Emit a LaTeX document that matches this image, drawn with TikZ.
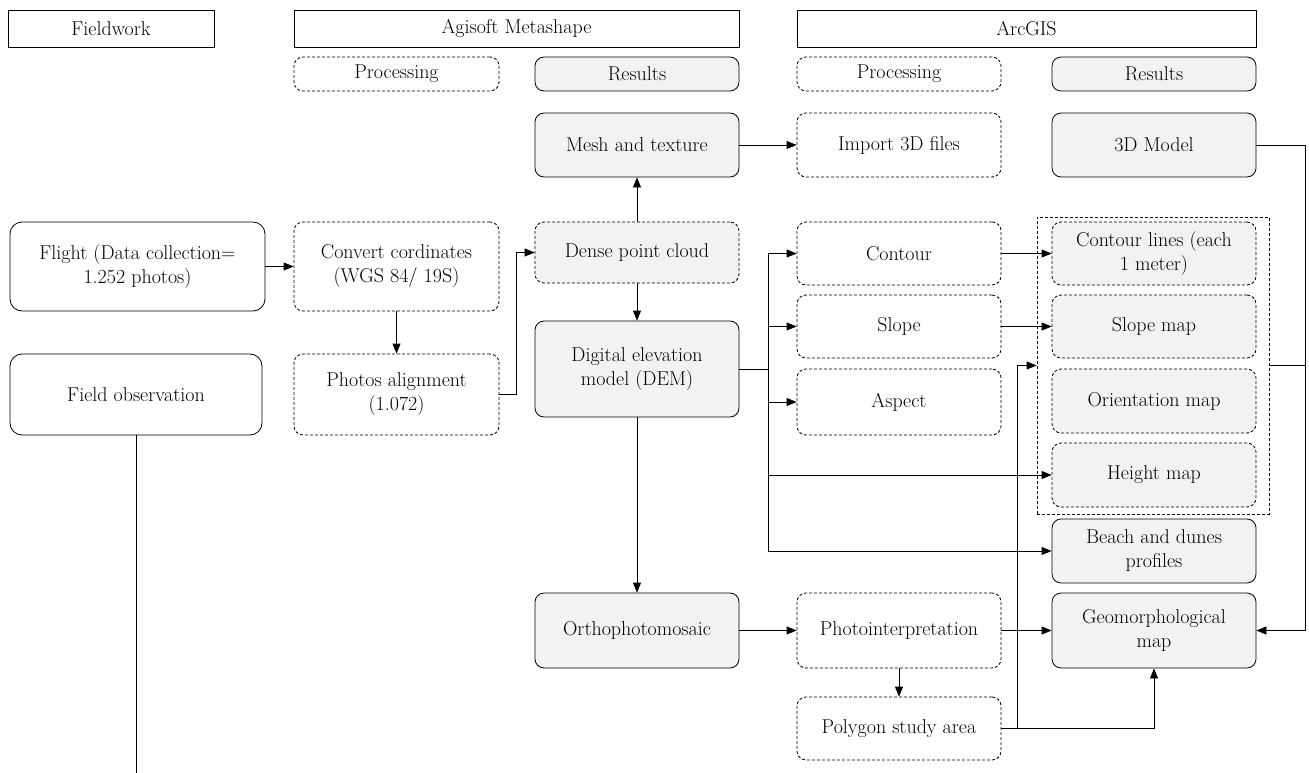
\documentclass[tikz,border=0pt]{standalone}
\usetikzlibrary{arrows.meta}
\definecolor{boxgray}{RGB}{242,242,242}
\begin{document}
\begin{tikzpicture}[x=1pt, y=-1pt,
    base/.style={font=\fontsize{20}{24}\selectfont, align=center, inner sep=2pt,
      line width=0.8pt, draw},
    headbox/.style={base, minimum height=37pt},
    procbox/.style={base, dash pattern=on 3pt off 2pt, rounded corners=9pt},
    resbox/.style={base, fill=boxgray, rounded corners=9pt},
    resdash/.style={resbox, dash pattern=on 3pt off 2pt},
    fieldbox/.style={base, rounded corners=12pt},
    groupbox/.style={draw, line width=0.8pt, dash pattern=on 3pt off 2pt, inner sep=0pt},
    link/.style={-{Triangle[length=10pt,width=8pt]}, line width=0.8pt},
    wire/.style={line width=0.8pt}]
  \useasboundingbox (0,0) rectangle (1309,773);
  % Column heads
  \node[headbox, minimum width=206pt] (fieldwork) at (111,28.5) {Fieldwork};
  \node[headbox, minimum width=445pt] (agisoft) at (516.5,28.5) {Agisoft Metashape};
  \node[headbox, minimum width=459pt] (arcgis) at (1026.5,28.5) {ArcGIS};
  \node[procbox, minimum width=205pt, minimum height=34pt] (procA) at (396.5,74) {Processing};
  \node[resbox, minimum width=204pt, minimum height=34pt] (resA) at (637,74) {Results};
  \node[procbox, minimum width=204pt, minimum height=34pt] (procB) at (899,74) {Processing};
  \node[resbox, minimum width=204pt, minimum height=34pt] (resB) at (1154,74) {Results};
  % Fieldwork
  \node[fieldbox, minimum width=255pt, minimum height=89pt] (flight) at (137.5,266.5)
    {Flight (Data collection=\\1.252 photos)};
  \node[fieldbox, minimum width=252pt, minimum height=81pt] (fieldobs) at (136,394.5)
    {Field observation};
  % Agisoft Metashape
  \node[procbox, minimum width=205pt, minimum height=89pt] (convert) at (396.5,266.5)
    {Convert cordinates\\(WGS 84/ 19S)};
  \node[procbox, minimum width=205pt, minimum height=81pt] (align) at (396.5,394.5)
    {Photos alignment\\(1.072)};
  \node[resbox, minimum width=204pt, minimum height=64pt] (mesh) at (637,145) {Mesh and texture};
  \node[resdash, minimum width=204pt, minimum height=61pt] (dense) at (637,252.5) {Dense point cloud};
  \node[resbox, minimum width=204pt, minimum height=96pt] (dem) at (637,369)
    {Digital elevation\\model (DEM)};
  \node[resbox, minimum width=204pt, minimum height=75pt] (ortho) at (637,630.5) {Orthophotomosaic};
  % ArcGIS processing
  \node[procbox, minimum width=204pt, minimum height=64pt] (import) at (899,145) {Import 3D files};
  \node[procbox, minimum width=204pt, minimum height=63pt] (contour) at (899,253.5) {Contour};
  \node[procbox, minimum width=204pt, minimum height=63pt] (slope) at (899,326.5) {Slope};
  \node[procbox, minimum width=204pt, minimum height=66pt] (aspect) at (899,402) {Aspect};
  \node[procbox, minimum width=204pt, minimum height=75pt] (photoint) at (899,630.5) {Photointerpretation};
  \node[procbox, minimum width=204pt, minimum height=63pt] (polygon) at (899,728.5) {Polygon study area};
  % ArcGIS results
  \node[resbox, minimum width=204pt, minimum height=64pt] (model) at (1154,145) {3D Model};
  \node[groupbox, minimum width=232pt, minimum height=297pt] (maps) at (1153,365.5) {};
  \node[resdash, minimum width=204pt, minimum height=63pt] (contourlines) at (1154,253.5)
    {Contour lines (each\\1 meter)};
  \node[resdash, minimum width=204pt, minimum height=63pt] (slopemap) at (1154,326.5) {Slope map};
  \node[resdash, minimum width=204pt, minimum height=64pt] (orient) at (1154,401) {Orientation map};
  \node[resdash, minimum width=204pt, minimum height=64pt] (height) at (1154,475) {Height map};
  \node[resbox, minimum width=204pt, minimum height=64pt] (beach) at (1154,551)
    {Beach and dunes\\profiles};
  \node[resbox, minimum width=204pt, minimum height=75pt] (geomorph) at (1154,630.5)
    {Geomorphological\\map};
  % Connectors
  \coordinate (split) at (768,369);
  \coordinate (bottomend) at (136,773);
  \draw[link] (flight) -- (convert);
  \draw[link] (convert) -- (align);
  \draw[link] (align.east) -- ++(17,0) |- (dense.west);
  \draw[link] (dense) -- (mesh);
  \draw[link] (dense) -- (dem);
  \draw[link] (mesh) -- (import);
  \draw[wire] (dem.east) -- (split);
  \draw[link] (split) |- (contour.west);
  \draw[link] (split) |- (slope.west);
  \draw[link] (split) |- (aspect.west);
  \draw[link] (split) |- (height.west);
  \draw[link] (split) |- (beach.west);
  \draw[link] (contour) -- (contourlines);
  \draw[link] (slope) -- (slopemap);
  \draw[link] (dem) -- (ortho);
  \draw[link] (ortho) -- (photoint);
  \draw[link] (photoint) -- (geomorph);
  \draw[link] (photoint) -- (polygon);
  \draw[link] (polygon.east) -| (geomorph.south);
  \draw[link] (polygon.east) -- ++(16,0) |- (maps.west);
  \draw[link] (model.east) -- ++(49,0) |- (geomorph.east);
  \draw[wire] (maps.east) -- ++(36,0);
  \draw[wire] (fieldobs) -- (bottomend);
\end{tikzpicture}
\end{document}
